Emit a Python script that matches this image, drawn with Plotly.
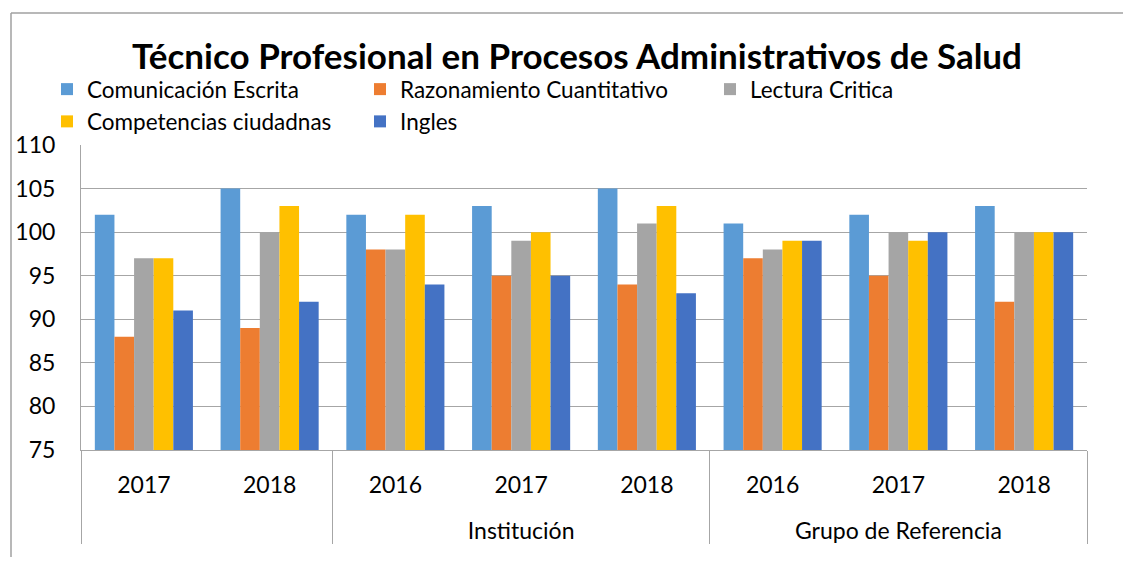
import plotly.graph_objects as go

groups = [" ", " ", "Institución", "Institución", "Institución",
          "Grupo de Referencia", "Grupo de Referencia", "Grupo de Referencia"]
# first (unlabelled) group years are padded with spaces so plotly keeps
# the 2016-2017-2018 order inside the other groups
years = [" 2017 ", " 2018 ", "2016", "2017", "2018", "2016", "2017", "2018"]

comunicacion = [102, 105, 102, 103, 105, 101, 102, 103]
razonamiento = [88, 89, 98, 95, 94, 97, 95, 92]
lectura = [97, 100, 98, 99, 101, 98, 100, 100]
competencias = [97, 103, 102, 100, 103, 99, 99, 100]
ingles = [91, 92, 94, 95, 93, 99, 100, 100]

series = [
    ("Comunicación Escrita", comunicacion, "#5B9BD5", "legend"),
    ("Razonamiento Cuantitativo", razonamiento, "#ED7D31", "legend2"),
    ("Lectura Critica", lectura, "#A5A5A5", "legend3"),
    ("Competencias ciudadnas", competencias, "#FFC000", "legend"),
    ("Ingles", ingles, "#4472C4", "legend2"),
]

FONT = "Lato"
outer = ["<br>" + g for g in groups]

fig = go.Figure()
for name, vals, color, lg in series:
    fig.add_trace(go.Bar(
        x=[outer, years], y=vals, name=name,
        marker=dict(color=color, line=dict(width=0)),
        legend=lg,
    ))

# page body has an 8px margin; coordinates below are in screenshot pixels
OFF = 8
W, H = 1131 - 2 * OFF, 565 - 2 * OFF
PL, PR, PT, PB = 81, 1087, 145, 450
L, R, T, B = PL - OFF, W - (PR - OFF), PT - OFF, H - (PB - OFF)

def px(x):
    return (x - PL) / (PR - PL)

def py(y):
    return (PB - y) / (PB - PT)

leg_common = dict(orientation="v", font=dict(family=FONT, size=22.5, color="black"),
                  bgcolor="rgba(0,0,0,0)", yanchor="top", xanchor="left",
                  tracegroupgap=0, traceorder="normal")

fig.update_layout(
    width=W, height=H,
    margin=dict(l=L, r=R, t=T, b=B, autoexpand=False),
    paper_bgcolor="white", plot_bgcolor="white",
    barmode="group", bargap=0.22, bargroupgap=0,
    font=dict(family=FONT, color="black"),
    title=dict(text="<b>Técnico Profesional en Procesos Administrativos de Salud</b>",
               x=(577 - OFF) / W, xanchor="center", y=1 - (57 - OFF) / H, yanchor="middle",
               font=dict(family=FONT, size=35, color="black")),
    legend=dict(x=px(47), y=py(68), **leg_common),
    legend2=dict(x=px(360), y=py(68), **leg_common),
    legend3=dict(x=px(710), y=py(68), **leg_common),
    xaxis=dict(type="multicategory",
               showline=True, linecolor="#A6A6A6", linewidth=1,
               showgrid=False, showdividers=True, dividercolor="#A6A6A6", dividerwidth=1,
               ticklabelstandoff=14,
               tickfont=dict(family=FONT, size=23, color="black")),
    yaxis=dict(range=[75, 110], dtick=5,
               showgrid=True, gridcolor="#A6A6A6", gridwidth=1,
               showline=True, linecolor="#A6A6A6", linewidth=1,
               zeroline=False, ticks="", ticklabelstandoff=20,
               tickfont=dict(family=FONT, size=23, color="black")),
    shapes=[
        dict(type="line", xref="paper", yref="paper",
             x0=px(11), x1=px(11), y0=py(565), y1=py(13),
             line=dict(color="#A0A0A0", width=1.5), layer="below"),
        dict(type="line", xref="paper", yref="paper",
             x0=px(11), x1=px(1123), y0=py(13), y1=py(13),
             line=dict(color="#A0A0A0", width=1.5), layer="below"),
    ],
)

fig.write_html("out.html")
